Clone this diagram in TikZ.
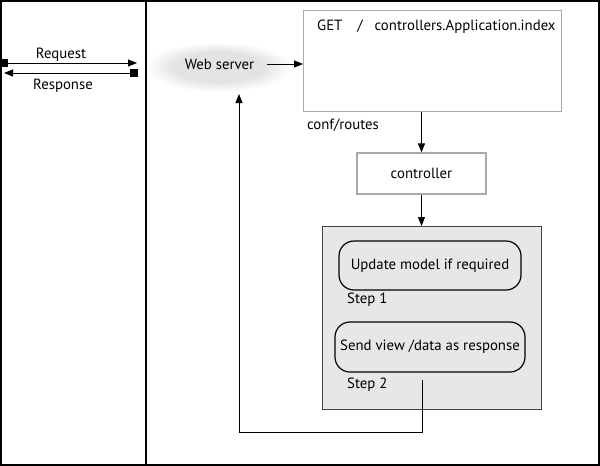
\documentclass[tikz,border=0pt]{standalone}
\usepackage{fontspec}
\setmainfont{PT Sans}
\usetikzlibrary{arrows.meta}
\definecolor{boxgray}{HTML}{E6E7E8}
\definecolor{edgegray}{HTML}{A7A9AC}
\definecolor{cloudgray}{HTML}{E2E3E5}
\pgfdeclareradialshading{cloudshade}{\pgfpoint{0bp}{0bp}}{color(0bp)=(cloudgray); color(15bp)=(cloudgray); color(25bp)=(white); color(50bp)=(white)}
\begin{document}
\begin{tikzpicture}[x=1pt,y=-1pt,
  lbl/.style={font=\fontsize{14.8}{17}\selectfont, inner sep=0pt},
  arr/.style={-{Triangle[length=9pt,width=7pt]}, line width=1pt},
  lightbox/.style={draw=edgegray, line width=1.3pt, inner sep=0pt},
  stepbox/.style={draw=black, line width=1.2pt, rounded corners=15pt, inner sep=0pt},
  sq/.style={fill=black, minimum size=7.5pt, inner sep=0pt}]
\useasboundingbox (0,0) rectangle (600,466);
% web server cloud
\shade[shading=cloudshade] (219,67) ellipse [x radius=74pt, y radius=25pt];
% frames
\draw[line width=1.5pt] (1,1) rectangle (599,465);
\draw[line width=1.3pt] (146,1) -- (146,465);
% request / response
\node[sq] (rqs) at (4,63) {};
\coordinate (rqe) at (137,63);
\draw[arr] (rqs.center) -- (rqe);
\node[sq] (rss) at (134,73) {};
\coordinate (rse) at (4,73);
\draw[arr] (rss.center) -- (rse);
\node[lbl] (req) at (61,55) {Request};
\node[lbl] (resp) at (63,86) {Response};
\node[lbl] (ws) at (219.5,64) {Web server};
% GET box
\node[lightbox, minimum width=258pt, minimum height=101pt, anchor=north west] (get) at (303,10) {};
\node[lbl, anchor=west] (gettxt) at (317,27) {GET\hspace{15pt}/\hspace{12pt}controllers.Application.index};
\coordinate (wsout) at (267,64);
\draw[arr] (wsout) -- (wsout -| get.west);
\node[lbl] (conf) at (343,125) {conf/routes};
% controller
\node[lightbox, minimum width=129pt, minimum height=41pt] (ctrl) at (421.5,173.5) {};
\node[lbl] (ctrltxt) at (ctrl.center) {controller};
\draw[arr] (get.south -| ctrl.north) -- (ctrl.north);
% gray box
\node[draw=black!75, fill=boxgray, line width=1.3pt, minimum width=219pt, minimum height=183pt, anchor=north west, inner sep=0pt] (gbox) at (322,226) {};
\draw[arr] (ctrl.south) -- (ctrl.south |- gbox.north);
% steps
\node[stepbox, minimum width=182pt, minimum height=49pt] (s1) at (430,265.5) {};
\node[lbl] (s1txt) at (s1.center) {Update model if required};
\node[lbl, anchor=west] (st1) at (347,300) {Step 1};
\node[stepbox, minimum width=190pt, minimum height=50pt] (s2) at (430,347) {};
\node[lbl] (s2txt) at (s2.center) {Send view /data as response};
\node[lbl, anchor=west] (st2) at (347,385) {Step 2};
% return line
\coordinate (ret) at (422,380);
\coordinate (turn) at (239,432);
\coordinate (wsin) at (239,94);
\draw[arr] (ret) -- (ret |- turn) -- (turn) -- (wsin);
\end{tikzpicture}
\end{document}
